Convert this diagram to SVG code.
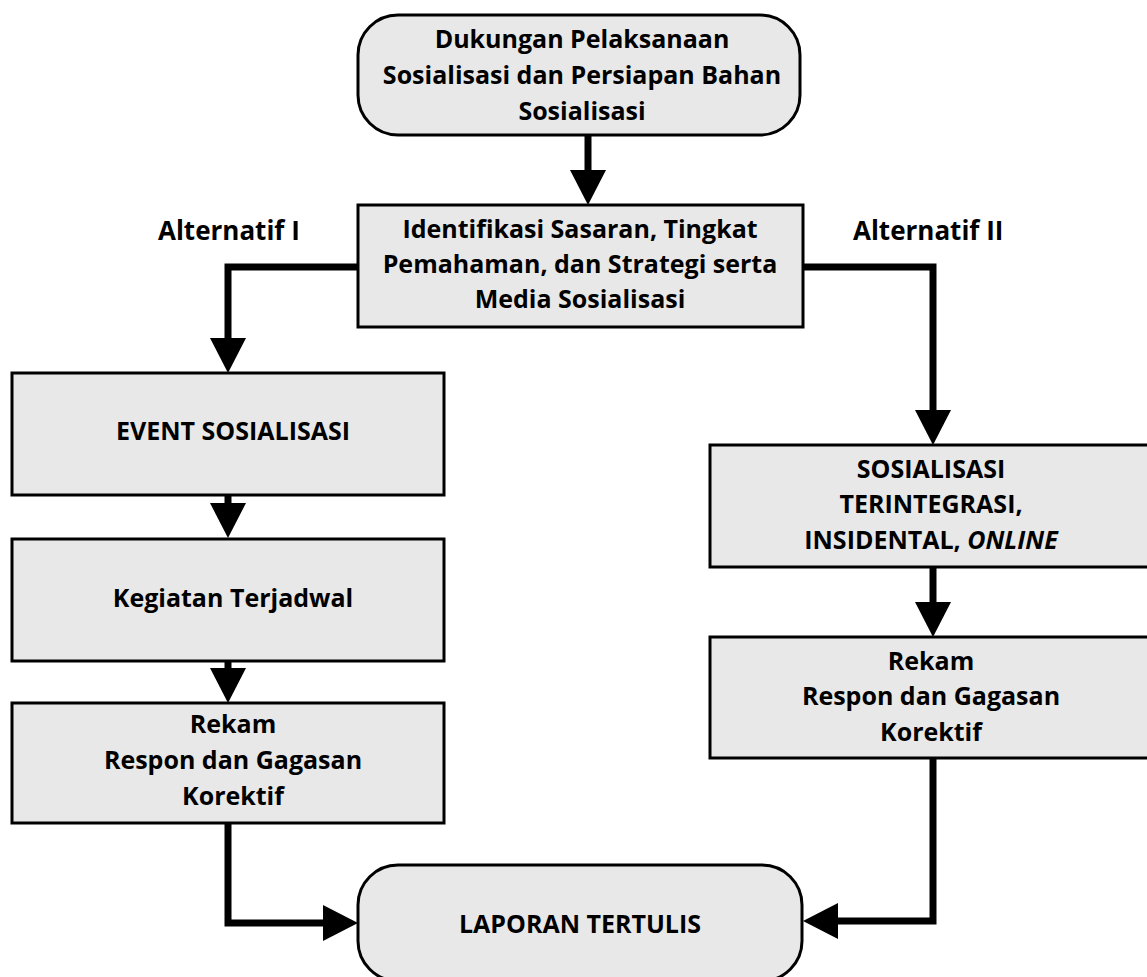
<svg xmlns="http://www.w3.org/2000/svg" width="1147" height="977" viewBox="0 0 1147 977">
<style>
.box{fill:#e8e8e8;stroke:#000;stroke-width:3}
.conn{fill:none;stroke:#000;stroke-width:7;stroke-linejoin:miter}
text{font-family:"Open Sans","Liberation Sans",sans-serif;font-weight:bold;font-size:25px;fill:#000;text-anchor:middle}
.lbl{text-anchor:start;font-size:26px}
</style>
<defs>
<marker id="arr" viewBox="0 0 35 36" refX="0" refY="18" markerWidth="35" markerHeight="36" markerUnits="userSpaceOnUse" orient="auto">
<path d="M0,0 L35,18 L0,36 z" fill="#000"/>
</marker>
</defs>
<g id="connectors">
<path class="conn" d="M588,135 V170" marker-end="url(#arr)"/>
<path class="conn" d="M358,267 H228 V338" marker-end="url(#arr)"/>
<path class="conn" d="M228,495 V503" marker-end="url(#arr)"/>
<path class="conn" d="M228,661 V668" marker-end="url(#arr)"/>
<path class="conn" d="M228,823 V923 H323" marker-end="url(#arr)"/>
<path class="conn" d="M803,267 H933 V410" marker-end="url(#arr)"/>
<path class="conn" d="M933,567 V602" marker-end="url(#arr)"/>
<path class="conn" d="M933,758 V921 H838" marker-end="url(#arr)"/>
</g>
<g id="n-dukungan">
<rect class="box" x="358" y="15" width="442" height="120" rx="40" ry="40"/>
<text x="582" y="48">Dukungan Pelaksanaan</text>
<text x="582" y="84">Sosialisasi dan Persiapan Bahan</text>
<text x="582" y="120">Sosialisasi</text>
</g>
<g id="n-identifikasi">
<rect class="box" x="358" y="205" width="445" height="122"/>
<text x="580" y="238">Identifikasi Sasaran, Tingkat</text>
<text x="580" y="273">Pemahaman, dan Strategi serta</text>
<text x="580" y="308">Media Sosialisasi</text>
</g>
<g id="lbl-alt1"><text class="lbl" x="158" y="240">Alternatif I</text></g>
<g id="lbl-alt2"><text class="lbl" x="853" y="240">Alternatif II</text></g>
<g id="n-event">
<rect class="box" x="12" y="373" width="432" height="122"/>
<text x="233" y="440">EVENT SOSIALISASI</text>
</g>
<g id="n-kegiatan">
<rect class="box" x="12" y="539" width="432" height="122"/>
<text x="233" y="607">Kegiatan Terjadwal</text>
</g>
<g id="n-rekam1">
<rect class="box" x="12" y="703" width="432" height="120"/>
<text x="233" y="733">Rekam</text>
<text x="233" y="769">Respon dan Gagasan</text>
<text x="233" y="805">Korektif</text>
</g>
<g id="n-sosialisasi">
<rect class="box" x="710" y="445" width="450" height="122"/>
<text x="931" y="478">SOSIALISASI</text>
<text x="931" y="513">TERINTEGRASI,</text>
<text x="931" y="549">INSIDENTAL, <tspan font-style="italic">ONLINE</tspan></text>
</g>
<g id="n-rekam2">
<rect class="box" x="710" y="637" width="450" height="121"/>
<text x="931" y="670">Rekam</text>
<text x="931" y="705">Respon dan Gagasan</text>
<text x="931" y="741">Korektif</text>
</g>
<g id="n-laporan">
<rect class="box" x="358" y="865" width="444" height="116" rx="40" ry="40"/>
<text x="580" y="933">LAPORAN TERTULIS</text>
</g>
</svg>
